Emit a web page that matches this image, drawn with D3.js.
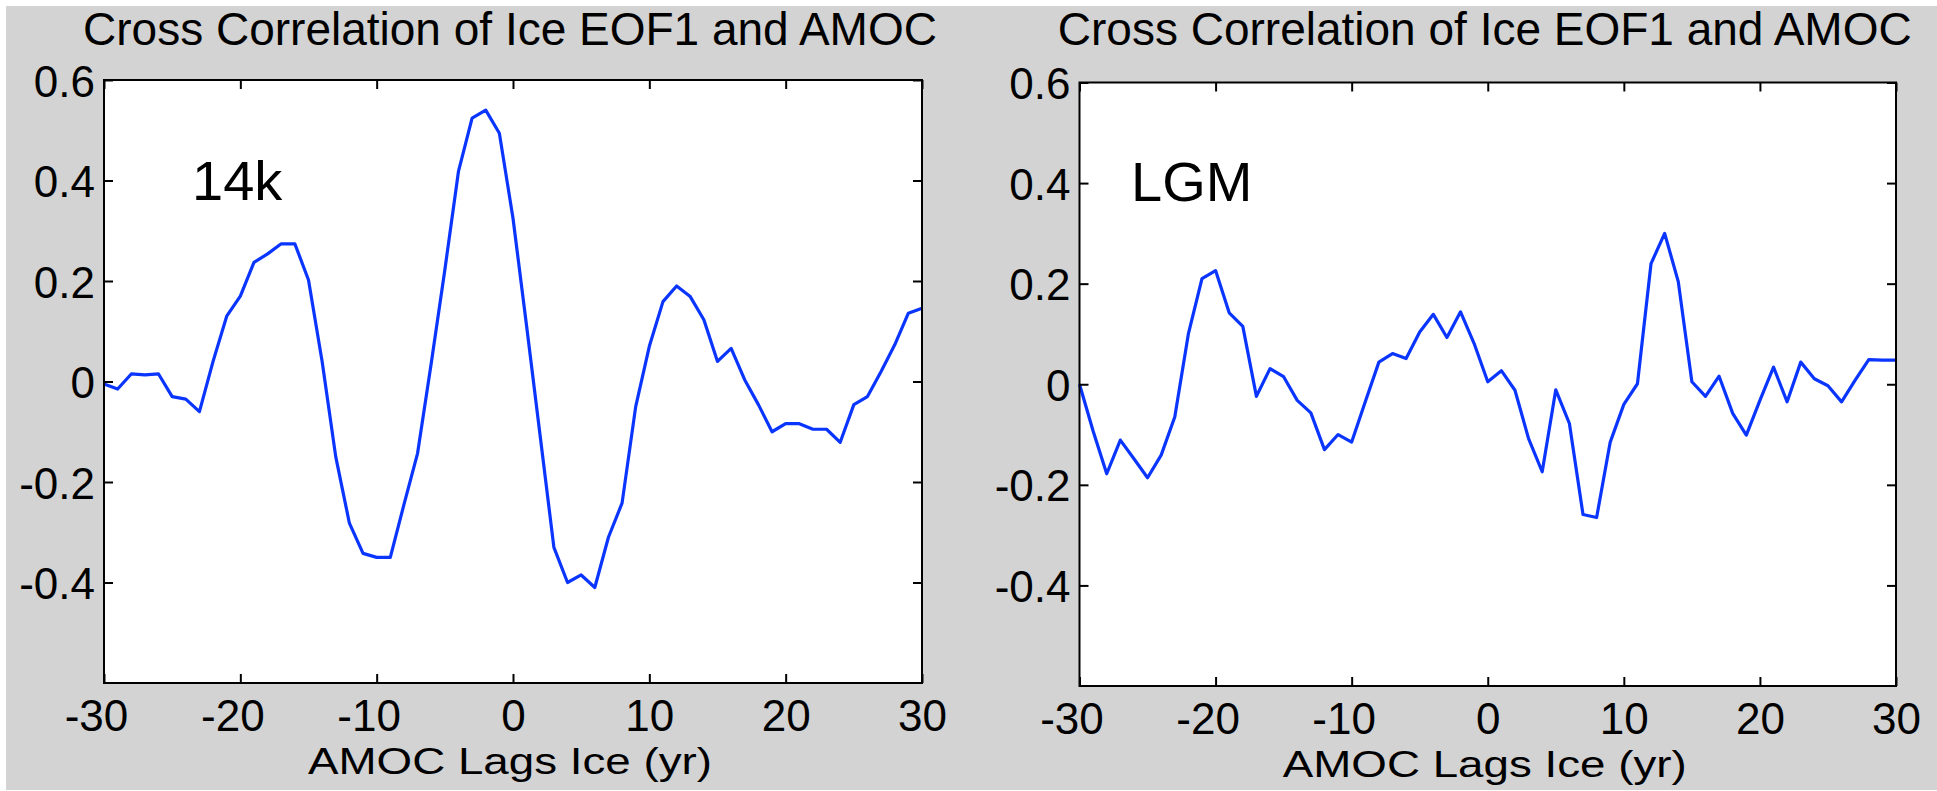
<!DOCTYPE html>
<html>
<head>
<meta charset="utf-8">
<script src="https://cdn.jsdelivr.net/npm/d3@7"></script>
<style>
  html, body { margin: 0; padding: 0; background: #ffffff; }
  svg { display: block; }
  text { font-family: "Liberation Sans", Arial, Helvetica, sans-serif; fill: #000; }
</style>
</head>
<body>
<svg id="chart" width="1937" height="791"></svg>
<script>
// ---- data ----
const lags = [-30,-29,-28,-27,-26,-25,-24,-23,-22,-21,-20,-19,-18,-17,-16,-15,-14,-13,-12,-11,
              -10,-9,-8,-7,-6,-5,-4,-3,-2,-1,0,1,2,3,4,5,6,7,8,9,
              10,11,12,13,14,15,16,17,18,19,20,21,22,23,24,25,26,27,28,29,30];

const corr14k = [-0.005,-0.015,0.015,0.013,0.015,-0.030,-0.035,-0.060,0.040,0.130,
                 0.170,0.237,0.254,0.274,0.274,0.202,0.040,-0.150,-0.282,-0.342,
                 -0.350,-0.350,-0.245,-0.143,0.036,0.222,0.418,0.524,0.540,0.494,
                 0.325,0.110,-0.110,-0.330,-0.400,-0.385,-0.410,-0.310,-0.242,-0.050,
                 0.070,0.159,0.190,0.169,0.123,0.040,0.066,0.003,-0.046,-0.100,
                 -0.084,-0.084,-0.095,-0.095,-0.121,-0.046,-0.030,0.020,0.073,0.136,0.146];

const corrLGM = [0.000,-0.093,-0.178,-0.111,-0.148,-0.186,-0.141,-0.065,0.100,0.210,
                 0.226,0.142,0.115,-0.024,0.031,0.015,-0.032,-0.057,-0.130,-0.100,
                 -0.115,-0.035,0.044,0.061,0.051,0.104,0.139,0.093,0.144,0.081,
                 0.005,0.027,-0.012,-0.108,-0.174,-0.011,-0.078,-0.259,-0.265,-0.115,
                 -0.040,0.001,0.240,0.300,0.204,0.005,-0.024,0.016,-0.058,-0.101,
                 -0.032,0.034,-0.035,0.044,0.011,-0.003,-0.035,0.008,0.049,0.048,0.048];

const xTicks = [-30,-20,-10,0,10,20,30];
const xTickLabels = ["-30","-20","-10","0","10","20","30"];
const yTicks = [-0.4,-0.2,0,0.2,0.4,0.6];
const yTickLabels = ["-0.4","-0.2","0","0.2","0.4","0.6"];
const titleText = "Cross Correlation of Ice EOF1 and AMOC";
const xLabelText = "AMOC Lags Ice (yr)";
const panelLabels = ["14k", "LGM"];

// ---- drawing ----
const svg = d3.select("#chart");
svg.append("rect").attr("x", 6).attr("y", 6).attr("width", 1931).attr("height", 784).attr("fill", "#d3d3d3");
svg.append("rect").attr("x", 0).attr("y", 790).attr("width", 971).attr("height", 1).attr("fill", "#ffffff");

const panels = [
  { values: corr14k, label: panelLabels[0], x0: 104, x1: 922, y0: 80, y1: 683, labelX: 192, labelY: 200 },
  { values: corrLGM, label: panelLabels[1], x0: 1079.5, x1: 1896, y0: 82.5, y1: 686, labelX: 1131, labelY: 201 }
];

const FONT = '"Liberation Sans", Arial, Helvetica, sans-serif';
const FONT_TICK = 44;
const TICK_LEN = 9;
const LINE_COLOR = "#0a35ff";

panels.forEach(p => {
  const x = d3.scaleLinear().domain([-30, 30]).range([p.x0, p.x1]);
  const y = d3.scaleLinear().domain([-0.6, 0.6]).range([p.y1, p.y0]);
  const g = svg.append("g");

  g.append("rect").attr("x", p.x0).attr("y", p.y0)
    .attr("width", p.x1 - p.x0).attr("height", p.y1 - p.y0).attr("fill", "#ffffff");

  // data line
  const line = d3.line().x((d, i) => x(lags[i])).y(d => y(d));
  g.append("path").datum(p.values)
    .attr("d", line).attr("fill", "none")
    .attr("stroke", LINE_COLOR).attr("stroke-width", 3.2)
    .attr("stroke-linejoin", "round");

  // axes with inward ticks
  const styleAxis = sel => {
    sel.select(".domain").remove();
    sel.selectAll(".tick line").attr("stroke", "#000").attr("stroke-width", 2);
  };

  const bottom = g.append("g").attr("transform", `translate(0,${p.y1})`)
    .call(d3.axisBottom(x).tickValues(xTicks).tickSize(-TICK_LEN).tickSizeOuter(0)
      .tickFormat((d, i) => xTickLabels[i]));
  styleAxis(bottom);
  bottom.selectAll(".tick text")
    .attr("y", 48).attr("dy", null)
    .attr("dx", d => d < 0 ? -8 : 0)
    .style("font-size", FONT_TICK + "px")
    .style("font-family", FONT)
    .attr("fill", "#000");

  const top = g.append("g").attr("transform", `translate(0,${p.y0})`)
    .call(d3.axisTop(x).tickValues(xTicks).tickSize(-TICK_LEN).tickSizeOuter(0).tickFormat(""));
  styleAxis(top);

  const left = g.append("g").attr("transform", `translate(${p.x0},0)`)
    .call(d3.axisLeft(y).tickValues(yTicks).tickSize(-TICK_LEN).tickSizeOuter(0)
      .tickFormat((d, i) => yTickLabels[i]));
  styleAxis(left);
  left.selectAll(".tick text")
    .attr("x", -9).attr("dy", null).attr("y", 16)
    .style("font-size", FONT_TICK + "px")
    .style("font-family", FONT)
    .attr("fill", "#000");

  const right = g.append("g").attr("transform", `translate(${p.x1},0)`)
    .call(d3.axisRight(y).tickValues(yTicks).tickSize(-TICK_LEN).tickSizeOuter(0).tickFormat(""));
  styleAxis(right);

  // box
  g.append("rect").attr("x", p.x0).attr("y", p.y0)
    .attr("width", p.x1 - p.x0).attr("height", p.y1 - p.y0)
    .attr("fill", "none").attr("stroke", "#000").attr("stroke-width", 2);

  // title
  const cx = (p.x0 + p.x1) / 2 - 3;
  g.append("text").attr("x", cx).attr("y", 45)
    .attr("text-anchor", "middle").style("font-size", "46px").text(titleText);

  // x label (wide, slightly short glyphs as in the reference)
  g.append("text").attr("x", cx).attr("y", p.y1 + 91)
    .attr("text-anchor", "middle").style("font-size", "37px")
    .attr("textLength", 404).attr("lengthAdjust", "spacingAndGlyphs")
    .text(xLabelText);

  // panel label
  g.append("text").attr("x", p.labelX).attr("y", p.labelY)
    .style("font-size", "56px").text(p.label);
});
</script>
</body>
</html>
